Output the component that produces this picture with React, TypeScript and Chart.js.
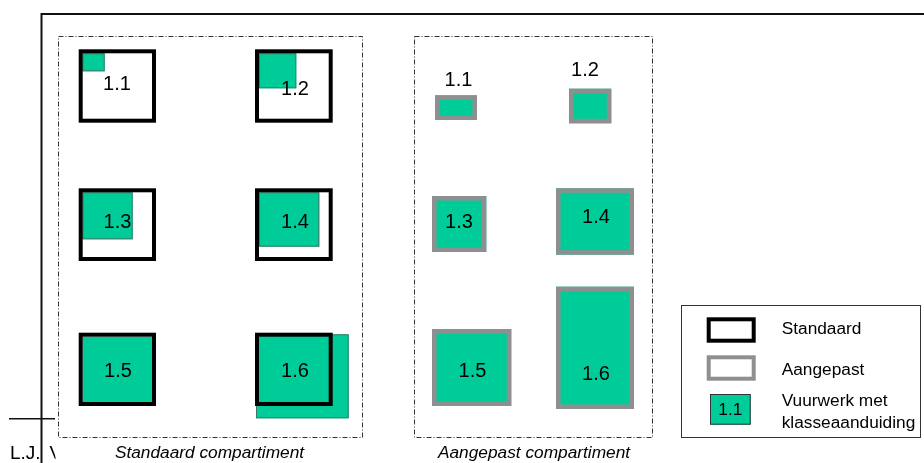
import React, { useEffect, useRef } from 'react';
import { Chart, registerables } from 'chart.js';
Chart.register(...registerables);

// Diagram coordinate system (units match the reference picture)
const X_RANGE = [0, 924];
const Y_RANGE = [0, 463];

const classLabels = ['1.1', '1.2', '1.3', '1.4', '1.5', '1.6'];

// Standaard compartiment: frame [x0, y0, x1, y1], firework area, label anchor
const standardFrames = [
  [78.7, 49.3, 156, 122.7],
  [255, 49.3, 332.7, 122.7],
  [78.7, 188.3, 156, 261],
  [255, 188.3, 332.7, 261],
  [78.7, 332.7, 156, 406],
  [255, 332.7, 332.7, 406],
];
const standardFill = [
  [82.5, 53.3, 104.7, 71.3],
  [259, 53.3, 296.3, 88.3],
  [82.5, 192.3, 132.7, 239.3],
  [259, 192.3, 319.3, 246.7],
  [82.5, 336.7, 152, 402],
  [256, 334.3, 348.7, 418.3],
];
const standardLabelPos = [
  [117, 84], [295, 89.5], [117.5, 222], [295, 222], [118, 371], [295, 371.5],
];

// Aangepast compartiment: frame [x0, y0, x1, y1], label anchor
const adaptedFrames = [
  [435, 95.3, 477, 120],
  [569, 88.7, 611.3, 123.3],
  [432, 196, 486.3, 252],
  [556, 188.3, 634, 254.7],
  [432, 329, 511.3, 406],
  [556, 286.7, 634, 409],
];
const adaptedLabelPos = [
  [458.5, 80], [585, 70.5], [459, 222], [596, 217], [472.5, 371], [596, 374],
];

// Compartment outlines and captions
const compartments = [
  [57.7, 36, 362.3, 437],
  [414, 36, 652.3, 437],
];
const compartmentCaptions = ['Standaard compartiment', 'Aangepast compartiment'];
const captionPos = [[209.5, 453], [534, 453]];

// Author text pieces (clipped at the left)
const authorTexts = ['L.J.', 'V'];
const authorPos = [[10, 454], [49.5, 454]];

// Legend
const legendBox = [680.7, 305.3, 919.7, 437.3];
const legendLabels = ['Standaard', 'Aangepast', 'Vuurwerk met', 'klasseaanduiding'];
const legendSwatches = [
  [706.7, 317.3, 755.7, 342.7],
  [706.7, 355.3, 755.7, 380.7],
  [710, 394, 750.7, 424.7],
];
const legendTextPos = [[781.7, 329], [781.7, 370], [781.7, 401], [781.7, 423]];

const GREEN = '#00CC99';
const GREEN_EDGE = '#3f7a66';
const BLACK = '#000000';
const GRAY = '#8f8f8f';
const FONT = '"Liberation Sans", Arial, sans-serif';

const diagramPlugin = {
  id: 'diagram',
  afterDraw(chart: any) {
    const ctx = chart.ctx as CanvasRenderingContext2D;
    const sx = chart.scales.x;
    const sy = chart.scales.y;
    const px = (v: number) => sx.getPixelForValue(v);
    const py = (v: number) => sy.getPixelForValue(v);

    const fillRect = (b: number[], color: string, edge?: string) => {
      const x0 = px(b[0]), y0 = py(b[1]), x1 = px(b[2]), y1 = py(b[3]);
      ctx.fillStyle = color;
      ctx.fillRect(x0, y0, x1 - x0, y1 - y0);
      if (edge) {
        ctx.lineWidth = 1;
        ctx.strokeStyle = edge;
        ctx.strokeRect(x0 + 0.5, y0 + 0.5, x1 - x0 - 1, y1 - y0 - 1);
      }
    };
    const frameRect = (b: number[], lw: number, color: string) => {
      const x0 = px(b[0]) + lw / 2, y0 = py(b[1]) + lw / 2;
      const x1 = px(b[2]) - lw / 2, y1 = py(b[3]) - lw / 2;
      ctx.lineWidth = lw;
      ctx.strokeStyle = color;
      ctx.setLineDash([]);
      ctx.strokeRect(x0, y0, x1 - x0, y1 - y0);
    };
    const text = (s: string, x: number, y: number, size: number, align: CanvasTextAlign = 'center', italic = false) => {
      ctx.font = `${italic ? 'italic ' : ''}${size}px ${FONT}`;
      ctx.fillStyle = '#000';
      ctx.textAlign = align;
      ctx.textBaseline = 'middle';
      ctx.fillText(s, px(x), py(y));
    };

    ctx.save();
    ctx.fillStyle = '#fff';
    ctx.fillRect(0, 0, chart.width, chart.height);

    // outer frame lines
    ctx.strokeStyle = '#111';
    ctx.lineWidth = 2;
    ctx.beginPath();
    ctx.moveTo(px(41.5), py(463));
    ctx.lineTo(px(41.5), py(14));
    ctx.lineTo(px(924), py(14));
    ctx.stroke();
    ctx.lineWidth = 1.5;
    ctx.beginPath();
    ctx.moveTo(px(9), py(418.7));
    ctx.lineTo(px(55), py(418.7));
    ctx.stroke();

    // author text, clipped
    ctx.save();
    ctx.beginPath();
    ctx.rect(0, 0, px(55.5), chart.height);
    ctx.clip();
    authorTexts.forEach((t, i) => text(t, authorPos[i][0], authorPos[i][1], 19, 'left'));
    ctx.restore();

    // compartments (dash-dot)
    ctx.lineWidth = 1;
    ctx.strokeStyle = '#333';
    ctx.setLineDash([5, 2, 1, 2]);
    compartments.forEach((b) => {
      const x0 = Math.round(px(b[0])) + 0.5, y0 = Math.round(py(b[1])) + 0.5;
      const x1 = Math.round(px(b[2])) + 0.5, y1 = Math.round(py(b[3])) + 0.5;
      ctx.strokeRect(x0, y0, x1 - x0, y1 - y0);
    });
    ctx.setLineDash([]);
    compartmentCaptions.forEach((c, i) => text(c, captionPos[i][0], captionPos[i][1], 17.3, 'center', true));

    // standard compartment boxes
    standardFrames.forEach((f, i) => {
      if (i === 5) {
        fillRect(standardFill[i], GREEN, GREEN_EDGE);
      } else {
        fillRect(f, '#fff');
        fillRect(standardFill[i], GREEN, i === 4 ? undefined : GREEN_EDGE);
      }
      frameRect(f, 4, BLACK);
      text(classLabels[i], standardLabelPos[i][0], standardLabelPos[i][1], 20);
    });

    // adapted compartment boxes
    adaptedFrames.forEach((f, i) => {
      fillRect(f, GREEN);
      frameRect(f, 4.5, GRAY);
      text(classLabels[i], adaptedLabelPos[i][0], adaptedLabelPos[i][1], 20);
    });

    // legend
    {
      const b = legendBox;
      const x0 = Math.round(px(b[0])) + 0.5, y0 = Math.round(py(b[1])) + 0.5;
      const x1 = Math.round(px(b[2])) + 0.5, y1 = Math.round(py(b[3])) + 0.5;
      ctx.lineWidth = 1;
      ctx.strokeStyle = '#333';
      ctx.strokeRect(x0, y0, x1 - x0, y1 - y0);
    }
    fillRect(legendSwatches[0], '#fff');
    frameRect(legendSwatches[0], 4, BLACK);
    fillRect(legendSwatches[1], '#fff');
    frameRect(legendSwatches[1], 4, GRAY);
    fillRect(legendSwatches[2], GREEN, '#333');
    const s2 = legendSwatches[2];
    text(classLabels[0], (s2[0] + s2[2]) / 2, (s2[1] + s2[3]) / 2 + 0.5, 17.3);
    legendLabels.forEach((l, i) => text(l, legendTextPos[i][0], legendTextPos[i][1], 17.3, 'left'));

    ctx.restore();
  },
};

export default function App() {
  const ref = useRef<HTMLCanvasElement | null>(null);
  useEffect(() => {
    document.body.style.margin = '0';
    const canvas = ref.current!;
    const chart = new Chart(canvas, {
      type: 'scatter',
      data: { datasets: [{ data: [], pointRadius: 0 }] },
      options: {
        animation: false,
        responsive: false,
        devicePixelRatio: 1,
        layout: { padding: 0 },
        plugins: { legend: { display: false }, tooltip: { enabled: false } },
        scales: {
          x: { type: 'linear', min: X_RANGE[0], max: X_RANGE[1], display: false },
          y: { type: 'linear', min: Y_RANGE[0], max: Y_RANGE[1], reverse: true, display: false },
        },
      },
      plugins: [diagramPlugin],
    });
    return () => chart.destroy();
  }, []);
  return <canvas ref={ref} width={924} height={463} style={{ display: 'block' }} />;
}
